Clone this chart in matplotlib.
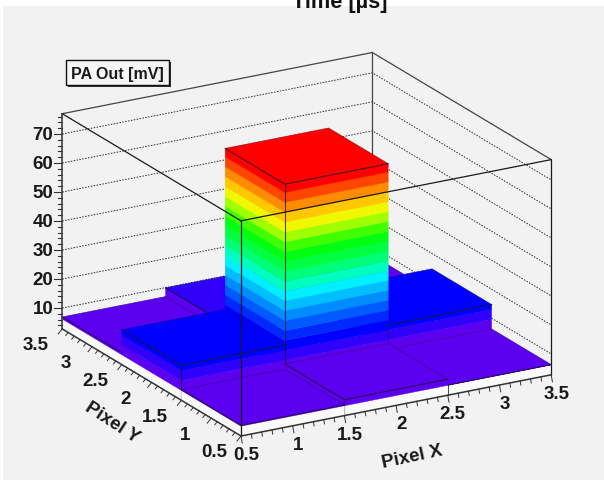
import numpy as np
import matplotlib
matplotlib.use("Agg")
import matplotlib.pyplot as plt
from matplotlib.patches import Rectangle, Polygon

plt.rcParams['font.family'] = ['Liberation Sans', 'DejaVu Sans']

# lego heights [mV], rows = pixel X, columns = pixel Y
heights = [[6.5, 14.8, 6.9],
           [8.3, 70.3, 9.9],
           [6.3, 14.7, 7.0]]
x_edges = [0.5, 1.5, 2.5, 3.5]
y_edges = [0.5, 1.5, 2.5, 3.5]
z_min, z_max = 2.8, 77.0

z_labels = [10, 20, 30, 40, 50, 60, 70]
xy_labels = [0.5, 1, 1.5, 2, 2.5, 3, 3.5]

# contour bands, first one is the blank level under the floor
band_step = 3.4
band_colors = ['#fafafa', '#5c00f0', '#3000fa', '#0000ff', '#0028ff', '#005aff',
               '#008cff', '#00beff', '#00f0ff', '#00ffbe', '#00ff78', '#00ff40',
               '#00ff10', '#40ff00', '#a0ff00', '#f0f800', '#ffc800', '#ff8c00',
               '#ff4600', '#ff0000']

# view of the box in image pixels
origin = np.array([241.0, 437.0])
ex = np.array([103.4, -20.4])
ey = np.array([-59.6, -35.7])
ez = np.array([0.0, -2.9])

line_col = '#17102e'
bg = '#f2f2f2'


def proj(x, y, z):
    return origin + (x - 0.5) * ex + (y - 0.5) * ey + (z - z_min) * ez


def band_of(z):
    return min(int((z - z_min) / band_step), len(band_colors) - 1)


def side_face(ax, p0, p1, h, zo):
    # p0, p1 are (x, y) of the bottom edge, stacked colour bands up to h
    for i in range(band_of(h) + 1):
        lo = z_min + i * band_step
        hi = min(lo + band_step, h)
        pts = [proj(*p0, lo), proj(*p1, lo), proj(*p1, hi), proj(*p0, hi)]
        ax.add_patch(Polygon(pts, closed=True, fc=band_colors[i], ec=band_colors[i], lw=0.3, zorder=zo))


fig = plt.figure(figsize=(6.04, 4.81), dpi=100, facecolor='white')
ax = fig.add_axes([0, 0, 1, 1])
ax.set_xlim(0, 604)
ax.set_ylim(481, 0)
ax.axis('off')

ax.add_patch(Rectangle((3, 7), 601, 474, fc=bg, ec='none', zorder=0))
ax.text(340, 8, "Time [µs]", ha='center', va='baseline', fontsize=15.7, fontweight='bold', color='#111111')

# back walls and grid
for z in z_labels:
    pts = np.array([proj(0.5, 3.5, z), proj(3.5, 3.5, z), proj(3.5, 0.5, z)])
    ax.plot(pts[:, 0], pts[:, 1], color='#333333', lw=0.7, ls=(0, (1.6, 1.4)), zorder=1)
for a, b in [((0.5, 3.5, z_max), (3.5, 3.5, z_max)),
             ((3.5, 3.5, z_max), (3.5, 0.5, z_max)),
             ((3.5, 3.5, z_min), (3.5, 3.5, z_max))]:
    pts = np.array([proj(*a), proj(*b)])
    ax.plot(pts[:, 0], pts[:, 1], color='#444444', lw=0.9, zorder=1)

# lego, back to front
cells = [(i, j) for i in range(3) for j in range(3)]
cells.sort(key=lambda c: -(c[0] + c[1]))
zo = 2
for i, j in cells:
    h = heights[i][j]
    x0, x1 = x_edges[i], x_edges[i + 1]
    y0, y1 = y_edges[j], y_edges[j + 1]
    side_face(ax, (x0, y1), (x0, y0), h, zo)
    side_face(ax, (x0, y0), (x1, y0), h, zo)
    col = band_colors[band_of(h)]
    top = [proj(x0, y0, h), proj(x1, y0, h), proj(x1, y1, h), proj(x0, y1, h)]
    ax.add_patch(Polygon(top, closed=True, fc=col, ec=col, lw=0.3, zorder=zo))
    # back edges of the top only faint, front edges dark
    back = np.array([top[1], top[2], top[3]])
    ax.plot(back[:, 0], back[:, 1], color=line_col, lw=0.7, alpha=0.3, zorder=zo)
    front = np.array([top[3], top[0], top[1]])
    ax.plot(front[:, 0], front[:, 1], color=line_col, lw=0.8, alpha=0.75, zorder=zo)
    edge = np.array([proj(x0, y0, z_min), proj(x0, y0, h)])
    ax.plot(edge[:, 0], edge[:, 1], color=line_col, lw=0.8, alpha=0.75, zorder=zo)
    zo += 1

# front edges of the box
for a, b in [((0.5, 0.5, z_max), (0.5, 0.5, z_min)),
             ((0.5, 0.5, z_max), (3.5, 0.5, z_max)),
             ((0.5, 0.5, z_max), (0.5, 3.5, z_max)),
             ((3.5, 0.5, z_max), (3.5, 0.5, z_min))]:
    pts = np.array([proj(*a), proj(*b)])
    ax.plot(pts[:, 0], pts[:, 1], color='#1a1a1a', lw=0.9, zorder=zo)

# axes lines
for a, b in [((0.5, 3.5, z_min), (0.5, 3.5, z_max)),
             ((0.5, 0.5, z_min), (3.5, 0.5, z_min)),
             ((0.5, 0.5, z_min), (0.5, 3.5, z_min))]:
    pts = np.array([proj(*a), proj(*b)])
    ax.plot(pts[:, 0], pts[:, 1], color='#333333', lw=1.1, zorder=zo)

# z ticks
for z in np.arange(4, 77, 2):
    p = proj(0.5, 3.5, z)
    n = 8 if z % 10 == 0 else 4
    ax.plot([p[0] - n, p[0]], [p[1], p[1]], color='#333333', lw=0.8, zorder=zo)
for z in z_labels:
    p = proj(0.5, 3.5, z)
    ax.text(p[0] - 9, p[1] + 0.5, str(z), ha='right', va='center', fontsize=13.5, fontweight='bold', color='#1a1a1a', zorder=zo)

# x and y ticks
for t in np.arange(0.5, 3.51, 0.1):
    major = abs(t * 2 - round(t * 2)) < 1e-6
    px = proj(t, 0.5, z_min)
    s = 1.0 if major else 0.6
    ax.plot([px[0], px[0] + 1.2 * s], [px[1], px[1] + 7 * s], color='#333333', lw=0.7, zorder=zo)
    py = proj(0.5, t, z_min)
    ax.plot([py[0], py[0] - 4 * s], [py[1], py[1] + 5 * s], color='#333333', lw=0.7, zorder=zo)
for t in xy_labels:
    px = proj(t, 0.5, z_min)
    ax.text(px[0] + 5, px[1] + 18.5, f"{t:g}", ha='center', va='center', fontsize=13.5, fontweight='bold', color='#1a1a1a', zorder=zo)
    py = proj(0.5, t, z_min)
    ax.text(py[0] - 26.5, py[1] + 16, f"{t:g}", ha='center', va='center', fontsize=13.5, fontweight='bold', color='#1a1a1a', zorder=zo)

ax.text(412, 457, "Pixel X", ha='center', va='center', rotation=12, rotation_mode='anchor',
        fontsize=13.5, fontweight='bold', color='#1a1a1a', zorder=zo)
ax.text(112, 423, "Pixel Y", ha='center', va='center', rotation=-33, rotation_mode='anchor',
        fontsize=13.5, fontweight='bold', color='#1a1a1a', zorder=zo)

# stats style label box
ax.add_patch(Rectangle((67.5, 62.5), 103, 25, fc='#333333', ec='none', zorder=zo))
ax.add_patch(Rectangle((66, 61), 103, 25, fc='#f5f5f5', ec='#111111', lw=1.0, zorder=zo + 1))
ax.text(117.5, 74, "PA Out [mV]", ha='center', va='center', fontsize=11.5, fontweight='bold', color='#1a1a1a', zorder=zo + 2)

plt.savefig('out.png', dpi=100)
